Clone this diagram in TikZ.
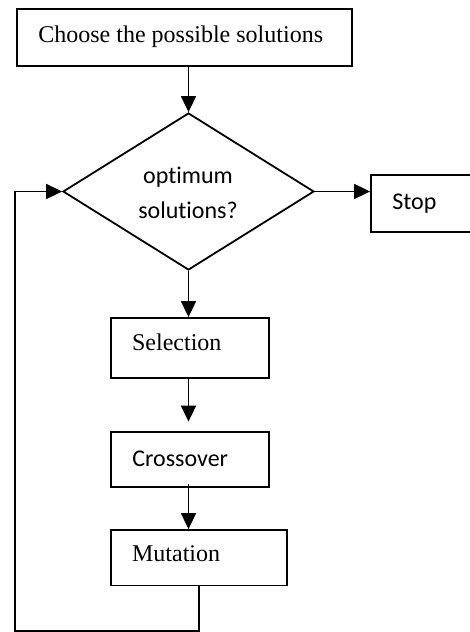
\documentclass[tikz,border=0pt]{standalone}
\usepackage{fontspec}
\setmainfont{Liberation Serif}
\newfontfamily\calib[Ligatures=NoCommon]{Carlito}
\usetikzlibrary{arrows.meta,shapes.geometric}
\tikzset{
  box/.style={draw=black, line width=0.9pt, rectangle, inner sep=0pt},
  decision/.style={draw=black, line width=0.9pt, diamond, inner sep=0pt, minimum width=125.5pt, minimum height=78.5pt},
  txt/.style={inner sep=0pt, anchor=base west, font=\fontsize{12}{14}\selectfont},
  ctxt/.style={inner sep=0pt, anchor=base, font=\fontsize{12}{14}\selectfont\calib},
  arr/.style={line width=0.9pt, -{Triangle[width=7.5pt,length=8pt]}},
  loopline/.style={line width=0.85pt, -{Triangle[width=7.5pt,length=8pt]}}
}
\begin{document}
\begin{tikzpicture}[x=0.5pt,y=-0.5pt]
\clip (0,0) rectangle (470,632);
\node[box, minimum width=167.5pt, minimum height=28.5pt] (start) at (184.5,37.5) {};
\node[txt] (startt) at (38,42.5) {Choose the possible solutions};
\node[decision] (dia) at (188.5,191.5) {};
\node[ctxt] (diat1) at (188,183) {optimum};
\node[ctxt] (diat2) at (188,218) {solutions?};
\node[box, minimum width=54.5pt, minimum height=28.5pt] (stop) at (425.5,203.5) {};
\node[txt, font=\fontsize{12}{14}\selectfont\calib] (stopt) at (392,209) {Stop};
\node[box, minimum width=79.3pt, minimum height=30pt] (sel) at (190,348) {};
\node[txt] (selt) at (131.7,350.7) {Selection};
\node[box, minimum width=79.3pt, minimum height=27.3pt] (cro) at (190,459.3) {};
\node[txt, font=\fontsize{12}{14}\selectfont\calib] (crot) at (132,466.5) {Crossover};
\node[box, minimum width=88.3pt, minimum height=27.7pt] (mut) at (199,557.7) {};
\node[txt] (mutt) at (131.7,561.7) {Mutation};
\coordinate (c1) at (199,631);
\coordinate (c2) at (15,631);
\coordinate (c3) at (15,191.5);
\draw[arr] (dia.north |- start.south) -- (dia.north);
\draw[arr] (dia.east) -- (stop.west |- dia.east);
\draw[arr] (dia.south) -- (dia.south |- sel.north);
\draw[arr, shorten >=4.75pt] (dia.south |- sel.south) -- (dia.south |- cro.north);
\draw[arr] ([yshift=2pt]dia.south |- cro.south) -- (dia.south |- mut.north);
\draw[loopline] (mut.south) -- (c1) -- (c2) -- (c3) -- (dia.west);
\end{tikzpicture}
\end{document}
